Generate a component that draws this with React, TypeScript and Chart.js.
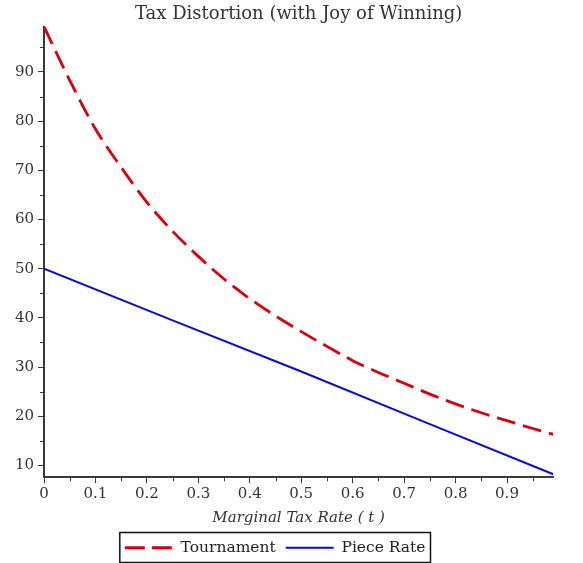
import React, { useEffect, useRef } from "react";
import { Chart, registerables } from "chart.js";

Chart.register(...registerables);

// ---- data ----
const TITLE = "Tax Distortion (with Joy of Winning)";
const X_TITLE = "Marginal Tax Rate ( t )";
const SERIES_NAMES = ["Tournament", "Piece Rate"];

const TAX_RATES_TOURNAMENT = [0, 0.05, 0.1, 0.15, 0.2, 0.25, 0.3, 0.35, 0.4, 0.45, 0.5, 0.55, 0.6, 0.65, 0.7, 0.75, 0.8, 0.85, 0.9, 0.95, 0.99];
const TOURNAMENT = [99.2, 88.3, 78.4, 70.6, 63.5, 57.6, 52.5, 47.9, 43.9, 40.4, 37.2, 34.2, 31.3, 28.9, 26.7, 24.5, 22.5, 20.7, 19.1, 17.5, 16.3];

const TAX_RATES_PIECE = [0, 0.25, 0.5, 0.75, 0.99];
const PIECE_RATE = [50, 39.5, 29.1, 18.4, 8.2];

const X_MIN = 0;
const X_MAX = 0.99;
const Y_MIN = 7.6;
const Y_MAX = 99.2;
const X_STEP = 0.1;
const Y_STEP = 10;
const X_MINOR = [0.05, 0.15, 0.25, 0.35, 0.45, 0.55, 0.65, 0.75, 0.85, 0.95];
const Y_MINOR = [15, 25, 35, 45, 55, 65, 75, 85, 95];

const RED = "#d00010";
const BLUE = "#0a0ad0";
const AXIS = "#3a3a3a";
const TEXT = "#333333";
const FONT = "'DejaVu Serif', 'Liberation Serif', serif";

const extrasPlugin = {
  id: "extras",
  afterDraw(chart: any) {
    const ctx = chart.ctx;
    const xs = chart.scales.x;
    const ys = chart.scales.y;
    ctx.save();
    ctx.strokeStyle = AXIS;
    ctx.lineWidth = 1;
    ctx.setLineDash([]);
    ctx.beginPath();
    for (const v of X_MINOR) {
      const px = Math.round(xs.getPixelForValue(v)) + 0.5;
      ctx.moveTo(px, xs.top);
      ctx.lineTo(px, xs.top + 4);
    }
    for (const v of Y_MINOR) {
      const py = Math.round(ys.getPixelForValue(v)) + 0.5;
      ctx.moveTo(ys.right - 4, py);
      ctx.lineTo(ys.right, py);
    }
    ctx.stroke();

    const boxes = chart.legend && chart.legend.legendHitBoxes;
    if (boxes && boxes.length) {
      let l = Infinity, r = -Infinity, t = Infinity, b = -Infinity;
      for (const h of boxes) {
        l = Math.min(l, h.left);
        r = Math.max(r, h.left + h.width);
        t = Math.min(t, h.top);
        b = Math.max(b, h.top + h.height);
      }
      ctx.strokeStyle = "#111";
      ctx.lineWidth = 1.5;
      ctx.strokeRect(l - 5, t - 7.5, r - l + 10, b - t + 14.5);
    }
    ctx.restore();
  },
};

export default function App() {
  const ref = useRef<HTMLCanvasElement | null>(null);

  useEffect(() => {
    if (!ref.current) return;
    Chart.defaults.font.family = FONT;
    const defaultLabels = (Chart.defaults as any).plugins.legend.labels.generateLabels;
    const chart = new Chart(ref.current, {
      type: "line",
      data: {
        datasets: [
          {
            label: SERIES_NAMES[0],
            data: TAX_RATES_TOURNAMENT.map((t, i) => ({ x: t, y: TOURNAMENT[i] })),
            borderColor: RED,
            backgroundColor: RED,
            borderWidth: 2.8,
            borderDash: [19, 8],
            pointRadius: 0,
            cubicInterpolationMode: "monotone",
            fill: false,
          },
          {
            label: SERIES_NAMES[1],
            data: TAX_RATES_PIECE.map((t, i) => ({ x: t, y: PIECE_RATE[i] })),
            borderColor: BLUE,
            backgroundColor: BLUE,
            borderWidth: 2,
            pointRadius: 0,
            tension: 0,
            fill: false,
          },
        ],
      },
      options: {
        responsive: false,
        animation: false,
        devicePixelRatio: 1,
        layout: { padding: { left: -3, right: 29.7, top: 0, bottom: -2.5 } },
        plugins: {
          title: {
            display: true,
            text: TITLE,
            fullSize: false,
            color: TEXT,
            font: { size: 18, weight: "normal", family: FONT },
            padding: { top: 3.2, bottom: 1.9 },
          },
          legend: {
            display: true,
            position: "bottom",
            labels: {
              usePointStyle: true,
              pointStyle: "line",
              pointStyleWidth: 48,
              color: "#222",
              font: { size: 15.5, family: FONT },
              padding: 10,
              generateLabels: (c: any) => {
                const items = defaultLabels(c);
                if (items[0]) items[0].lineDash = [20, 7];
                return items;
              },
            },
          },
          tooltip: { enabled: false },
        },
        scales: {
          x: {
            type: "linear",
            min: X_MIN,
            max: X_MAX,
            afterFit: (s: any) => {
              s.height = 52.8;
            },
            ticks: {
              stepSize: X_STEP,
              includeBounds: false,
              color: TEXT,
              font: { size: 15, family: FONT },
              padding: 2,
              maxRotation: 0,
              autoSkip: false,
              callback: (v: any) => String(Number(Number(v).toFixed(2))),
            },
            grid: {
              display: true,
              drawOnChartArea: false,
              drawTicks: true,
              tickLength: 6,
              tickColor: AXIS,
              tickWidth: 1,
            },
            border: { display: true, color: AXIS, width: 2 },
            title: {
              display: true,
              text: X_TITLE,
              color: TEXT,
              font: { size: 15, style: "italic", family: FONT },
              padding: { top: 0, bottom: 3 },
            },
          },
          y: {
            type: "linear",
            min: Y_MIN,
            max: Y_MAX,
            afterFit: (s: any) => {
              s.width = 47;
            },
            ticks: {
              stepSize: Y_STEP,
              includeBounds: false,
              color: TEXT,
              font: { size: 15, family: FONT },
              padding: 4,
              autoSkip: false,
            },
            grid: {
              display: true,
              drawOnChartArea: false,
              drawTicks: true,
              tickLength: 6,
              tickColor: AXIS,
              tickWidth: 1,
            },
            border: { display: true, color: AXIS, width: 2 },
          },
        },
      },
      plugins: [extrasPlugin],
    });
    return () => chart.destroy();
  }, []);

  return (
    <div style={{ position: "absolute", left: 0, top: 0, width: 583, height: 563, background: "#fff" }}>
      <canvas ref={ref} width={583} height={563} style={{ display: "block", width: 583, height: 563 }} />
    </div>
  );
}
